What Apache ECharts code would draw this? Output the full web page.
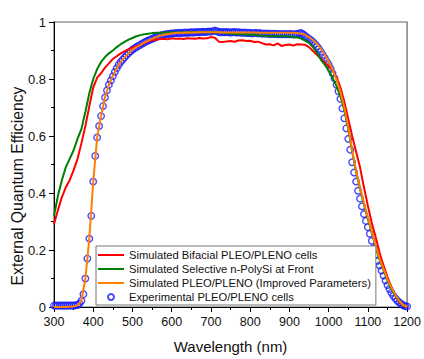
<!DOCTYPE html>
<html>
<head>
<meta charset="utf-8">
<script src="https://cdn.jsdelivr.net/npm/echarts@6/dist/echarts.min.js"></script>
<style>
html,body{margin:0;padding:0;background:#fff;}
#chart{width:424px;height:359px;}
</style>
</head>
<body>
<div id="chart"></div>
<script>
// Wavelength grid of simulated curves (nm)
var simWavelength = [300,310,320,330,340,350,360,370,380,390,400,410,420,430,440,450,460,470,480,490,
500,510,520,530,540,550,560,570,580,590,600,610,620,630,640,650,660,670,680,690,
700,710,720,730,740,750,760,770,780,790,800,810,820,830,840,850,860,870,880,890,
900,910,920,930,940,950,960,970,980,990,1000,1010,1020,1030,1040,1050,1060,1070,1080,1090,
1100,1110,1120,1130,1140,1150,1160,1170,1180,1190,1200];

var bifacialEQE = [0.29,0.34,0.385,0.42,0.445,0.48,0.52,0.575,0.635,0.705,0.77,0.805,0.82,0.84,0.855,0.87,0.88,0.89,0.898,0.905,
0.91,0.915,0.92,0.926,0.933,0.936,0.938,0.94,0.941,0.939,0.943,0.941,0.942,0.940,0.943,0.942,0.941,0.944,0.942,0.943,
0.947,0.945,0.931,0.930,0.932,0.933,0.931,0.935,0.936,0.933,0.934,0.930,0.931,0.926,0.921,0.922,0.918,0.925,0.916,0.919,
0.921,0.917,0.922,0.921,0.920,0.912,0.898,0.885,0.872,0.858,0.845,0.83,0.806,0.77,0.72,0.66,0.60,0.545,0.49,0.42,
0.355,0.295,0.245,0.19,0.145,0.105,0.07,0.04,0.018,0.004,0.0];

var selectiveEQE = [0.32,0.39,0.445,0.49,0.52,0.55,0.59,0.625,0.685,0.75,0.80,0.835,0.86,0.877,0.89,0.90,0.912,0.922,0.93,0.938,
0.944,0.95,0.954,0.957,0.959,0.961,0.962,0.962,0.963,0.963,0.963,0.963,0.964,0.963,0.964,0.965,0.964,0.964,0.965,0.964,
0.965,0.964,0.963,0.962,0.961,0.960,0.958,0.957,0.957,0.956,0.955,0.954,0.953,0.952,0.951,0.950,0.950,0.951,0.950,0.950,
0.949,0.948,0.946,0.942,0.935,0.927,0.912,0.893,0.868,0.85,0.83,0.805,0.775,0.74,0.69,0.625,0.545,0.475,0.415,0.36,
0.31,0.26,0.21,0.165,0.128,0.094,0.064,0.039,0.02,0.006,0.0];

var improvedEQE = [0.0,0.0,0.0,0.0,0.001,0.002,0.006,0.022,0.10,0.24,0.44,0.595,0.67,0.735,0.78,0.81,0.838,0.86,0.876,0.891,
0.903,0.912,0.92,0.928,0.935,0.941,0.947,0.952,0.955,0.958,0.96,0.961,0.962,0.962,0.963,0.963,0.963,0.964,0.964,0.964,
0.964,0.964,0.964,0.963,0.963,0.963,0.963,0.963,0.963,0.963,0.963,0.963,0.962,0.962,0.962,0.962,0.962,0.962,0.962,0.962,
0.962,0.962,0.961,0.959,0.955,0.947,0.937,0.924,0.907,0.886,0.862,0.833,0.798,0.755,0.70,0.632,0.55,0.48,0.42,0.365,
0.315,0.265,0.215,0.17,0.133,0.098,0.068,0.042,0.022,0.007,0.0];

// Experimental points (nm)
var expWavelength = [300,305,310,315,320,325,330,335,340,345,350,355,360,365,370,375,380,385,390,395,
400,405,410,415,420,425,430,435,440,445,450,455,460,465,470,475,480,485,490,495,
500,505,510,515,520,525,530,535,540,545,550,555,560,565,570,575,580,585,590,595,
600,605,610,615,620,625,630,635,640,645,650,655,660,665,670,675,680,685,690,695,
700,705,710,715,720,725,730,735,740,745,750,755,760,765,770,775,780,785,790,795,
800,805,810,815,820,825,830,835,840,845,850,855,860,865,870,875,880,885,890,895,
900,905,910,915,920,925,930,935,940,945,950,955,960,965,970,975,980,985,990,995,
1000,1005,1010,1015,1020,1025,1030,1035,1040,1045,1050,1055,1060,1065,1070,1075,1080,1085,1090,1095,
1100,1105,1110,1115,1120,1125,1130,1135,1140,1145,1150,1155,1160,1165,1170,1175,1180,1185,1190,1195,1200];

var experimentalEQE = [0.005,0.005,0.005,0.005,0.005,0.005,0.005,0.005,0.005,0.005,0.005,0.006,0.007,0.012,0.022,0.045,0.10,0.17,0.24,0.32,
0.44,0.53,0.595,0.635,0.67,0.705,0.735,0.76,0.78,0.795,0.81,0.825,0.838,0.85,0.86,0.868,0.876,0.884,0.891,0.897,
0.903,0.908,0.912,0.916,0.92,0.924,0.928,0.932,0.935,0.938,0.941,0.944,0.947,0.95,0.952,0.954,0.955,0.957,0.958,0.959,
0.960,0.960,0.961,0.961,0.962,0.961,0.962,0.963,0.962,0.963,0.964,0.963,0.964,0.965,0.964,0.965,0.966,0.965,0.966,0.967,
0.966,0.968,0.970,0.968,0.965,0.964,0.965,0.964,0.965,0.964,0.963,0.964,0.965,0.963,0.964,0.963,0.962,0.963,0.962,0.961,
0.962,0.960,0.961,0.962,0.960,0.961,0.959,0.960,0.959,0.960,0.958,0.959,0.958,0.959,0.957,0.958,0.957,0.958,0.957,0.958,
0.957,0.958,0.956,0.957,0.958,0.960,0.961,0.957,0.951,0.946,0.941,0.936,0.930,0.923,0.915,0.906,0.896,0.885,0.874,0.862,
0.850,0.836,0.820,0.802,0.780,0.757,0.730,0.697,0.662,0.627,0.590,0.552,0.508,0.472,0.440,0.408,0.380,0.353,0.326,0.302,
0.280,0.257,0.232,0.207,0.182,0.162,0.146,0.128,0.110,0.093,0.077,0.063,0.050,0.039,0.030,0.022,0.016,0.011,0.006,0.003,0.002];

var seriesNames = [
  'Simulated Bifacial PLEO/PLENO cells',
  'Simulated Selective n-PolySi at Front',
  'Simulated PLEO/PLENO (Improved Parameters)',
  'Experimental PLEO/PLENO cells'
];
var xAxisTitle = 'Wavelength (nm)';
var yAxisTitle = 'External Quantum Efficiency';

function pairs(xs, ys) {
  var out = [];
  for (var i = 0; i < xs.length; i++) out.push([xs[i], ys[i]]);
  return out;
}

var chart = echarts.init(document.getElementById('chart'), null, {renderer: 'svg'});
var font = 'Liberation Sans, Arial, sans-serif';
var hidden = 'rgba(0,0,0,0)';

function lineSeries(name, values, color) {
  return {
    name: name, type: 'line', data: pairs(simWavelength, values),
    showSymbol: false, symbol: 'none', color: color,
    itemStyle: {color: hidden, borderColor: hidden, borderWidth: 0, opacity: 0},
    lineStyle: {color: color, width: 2}
  };
}

chart.setOption({
  animation: false,
  backgroundColor: '#fff',
  grid: {
    left: 54, right: 11, top: 22, bottom: 47,
    show: true, borderColor: '#666', borderWidth: 1.2, backgroundColor: 'transparent'
  },
  xAxis: {
    type: 'value', min: 300, max: 1200, interval: 100,
    name: xAxisTitle, nameLocation: 'middle', nameGap: 32,
    nameTextStyle: {fontFamily: font, fontSize: 15, color: '#111'},
    axisLine: {show: true, onZero: false, lineStyle: {color: '#000', width: 1}},
    axisTick: {show: true, length: 5, lineStyle: {color: '#000'}},
    minorTick: {show: true, splitNumber: 2, length: 3, lineStyle: {color: '#000'}},
    splitLine: {show: false},
    axisLabel: {fontFamily: font, fontSize: 12.5, color: '#111', margin: 8,
      formatter: function (v) { return String(v); }}
  },
  yAxis: {
    type: 'value', min: 0, max: 1, interval: 0.2,
    axisLine: {show: true, onZero: false, lineStyle: {color: '#000', width: 1}},
    axisTick: {show: true, length: 5, lineStyle: {color: '#000'}},
    minorTick: {show: true, splitNumber: 2, length: 3, lineStyle: {color: '#000'}},
    splitLine: {show: false},
    axisLabel: {fontFamily: font, fontSize: 13, color: '#111', margin: 8}
  },
  graphic: [{
    type: 'text', x: 17.5, y: 186, rotation: Math.PI / 2,
    style: {text: yAxisTitle, fontFamily: font, fontSize: 15.8, fill: '#111',
      align: 'center', verticalAlign: 'middle'}
  }],
  legend: {
    orient: 'vertical', left: 96, top: 246,
    backgroundColor: '#fff', borderColor: '#777', borderWidth: 1,
    padding: [2, 5, 1, 1], itemWidth: 26, itemHeight: 6, itemGap: 0,
    textStyle: {fontFamily: font, fontSize: 11.2, color: '#111', lineHeight: 14},
    data: seriesNames
  },
  series: [
    lineSeries(seriesNames[0], bifacialEQE, '#ff0000'),
    lineSeries(seriesNames[1], selectiveEQE, '#008000'),
    lineSeries(seriesNames[2], improvedEQE, '#ff8000'),
    {
      name: seriesNames[3], type: 'scatter', data: pairs(expWavelength, experimentalEQE),
      symbol: 'circle', symbolSize: 6.5,
      itemStyle: {color: 'rgba(255,255,255,0)', borderColor: '#1a1aff', borderWidth: 1.4}
    }
  ]
});
</script>
</body>
</html>
